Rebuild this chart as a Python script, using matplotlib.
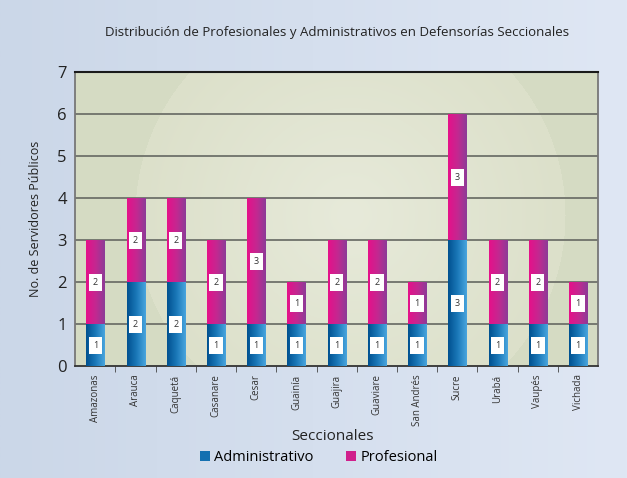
import numpy as np
import matplotlib.pyplot as plt
from matplotlib.colors import LinearSegmentedColormap, to_rgb
from matplotlib.patches import Patch

plt.rcParams['font.family'] = ['Open Sans', 'DejaVu Sans']

# datos
seccionales = ['Amazonas', 'Arauca', 'Caquetá', 'Casanare', 'Cesar', 'Guainía', 'Guajira',
               'Guaviare', 'San Andrés', 'Sucre', 'Urabá', 'Vaupés', 'Vichada']
administrativo = [1, 2, 2, 1, 1, 1, 1, 1, 1, 3, 1, 1, 1]
profesional = [2, 2, 2, 2, 3, 1, 2, 2, 1, 3, 2, 2, 1]

fig = plt.figure(figsize=(6.27, 4.78), dpi=100)

# fondo de la figura, degradado azul claro
bg = fig.add_axes([0, 0, 1, 1], zorder=-10)
grad = np.linspace(0, 1, 256).reshape(1, -1)
bg.imshow(grad, aspect='auto', extent=[0, 1, 0, 1],
          cmap=LinearSegmentedColormap.from_list('bg', ['#cbd7e8', '#dfe7f4']))
bg.axis('off')

ax = fig.add_axes([0.120, 0.234, 0.834, 0.615])

# fondo del área de trazado con halo claro (suave)
w, h = 523, 294
xx, yy = np.meshgrid(np.arange(w), np.arange(h)[::-1])
r = np.hypot(xx - 275, yy - 150) / 215.0
base = np.array(to_rgb('#d5dbc3'))
inner = np.array(to_rgb('#e7eada'))
edge = np.array(to_rgb('#dce0ca'))
t = np.clip(r, 0, 1)[..., None]
img = inner * (1 - t) + edge * t
img = np.where((r > 1)[..., None], base, img)
ax.imshow(img, aspect='auto', extent=[0, 1, 0, 1], transform=ax.transAxes, zorder=0)

x = np.arange(len(seccionales))
bw = 0.45
cm_adm = LinearSegmentedColormap.from_list('adm', ['#00508f', '#1a78b8', '#4aa6de'])
cm_pro = LinearSegmentedColormap.from_list('pro', ['#e6108a', '#c42890', '#8c3c98'])

for i in range(len(x)):
    a, p = administrativo[i], profesional[i]
    ax.imshow(grad, aspect='auto', cmap=cm_adm, zorder=3,
              extent=[x[i] - bw / 2, x[i] + bw / 2, 0, a])
    ax.imshow(grad, aspect='auto', cmap=cm_pro, zorder=3,
              extent=[x[i] - bw / 2, x[i] + bw / 2, a, a + p])
    for val, yc in [(a, a / 2), (p, a + p / 2)]:
        ax.text(x[i], yc, str(val), ha='center', va='center', fontsize=6.5, color='#333333',
                zorder=4, bbox=dict(boxstyle='square,pad=0.45', fc='white', ec='none'))

ax.set_xlim(-0.5, len(x) - 0.5)
ax.set_ylim(0, 7)
ax.set_yticks(range(8))
ax.tick_params(axis='y', labelsize=12, length=0, pad=6, colors='#222222')
ax.set_xticks(x)
ax.set_xticklabels(seccionales, rotation=90, fontsize=7, color='#333333')
ax.tick_params(axis='x', length=0, pad=6)
ax.set_xticks(np.arange(0.5, len(x) - 0.5), minor=True)
ax.tick_params(axis='x', which='minor', length=4, color='#444444', direction='out')

for yv in range(1, 7):
    ax.axhline(yv, color='#6e716a', lw=1.3, zorder=2)
for s in ['left', 'right']:
    ax.spines[s].set_color('#777777')
    ax.spines[s].set_linewidth(1.3)
ax.spines['top'].set_color('#1a1a1a')
ax.spines['top'].set_linewidth(1.5)
ax.spines['bottom'].set_color('#333333')
ax.spines['bottom'].set_linewidth(1.3)

ax.set_ylabel('No. de Servidores Públicos', fontsize=9, color='#222222', labelpad=11)

fig.text(0.537, 0.933, 'Distribución de Profesionales y Administrativos en Defensorías Seccionales',
         ha='center', va='center', fontsize=9.5, color='#222222')
fig.text(0.53, 0.086, 'Seccionales', ha='center', va='center', fontsize=11, color='#222222')

handles = [Patch(facecolor='#1470b0', label='Administrativo'),
           Patch(facecolor='#d0208c', label='Profesional')]
fig.legend(handles=handles, loc='center', bbox_to_anchor=(0.508, 0.042), ncol=2, frameon=False,
           fontsize=10.5, handlelength=0.7, handleheight=0.7, handletextpad=0.3, columnspacing=2.2)

fig.savefig('out.png', dpi=100)
